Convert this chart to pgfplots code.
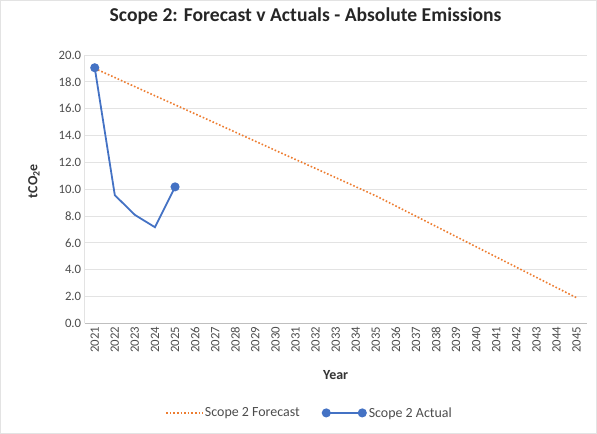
\documentclass[border=0pt]{standalone}
\usepackage{pgfplots}
\pgfplotsset{compat=1.18}
\usepackage{fontspec}
\setmainfont{Carlito}
\definecolor{fcorange}{HTML}{ED7D31}
\definecolor{actblue}{HTML}{4472C4}
\definecolor{gridgray}{HTML}{E3E3E3}
\definecolor{axgray}{HTML}{BFBFBF}
\definecolor{txtgray}{HTML}{595959}
\pgfplotsset{
  fclegend/.style={legend image code/.code={\draw[#1] (0bp,0bp) -- (36bp,0bp);}},
  actlegend/.style={legend image code/.code={\draw[actblue, line width=1.8bp] (0bp,0bp) -- (36bp,0bp); \fill[actblue] (0bp,0bp) circle (3.6bp) (36bp,0bp) circle (3.6bp);}},
}
\begin{document}
\begin{tikzpicture}
\path[use as bounding box] (-84.7bp,-110.7bp) rectangle (512.3bp,323.3bp);
\draw[gridgray, line width=0.6bp] (-84.2bp,-110.2bp) rectangle (511.8bp,322.8bp);
\begin{axis}[
  scale only axis,
  width=502bp, height=268.3bp,
  xmin=2020.5, xmax=2045.5,
  ymin=0, ymax=20,
  xtick={2021,2022,...,2045},
  ytick={0,2,...,20},
  major tick length=0pt,
  ymajorgrids,
  grid style={gridgray, line width=0.8bp},
  axis x line*=bottom,
  axis y line*=left,
  x axis line style={axgray, line width=1.2bp, -},
  y axis line style={gridgray, line width=0.8bp, -},
  /pgf/number format/assume math mode=true,
  xticklabel style={rotate=90, anchor=east, font=\fontsize{12.8}{14}\selectfont, text=txtgray!85!black, /pgf/number format/1000 sep={}},
  yticklabel style={font=\fontsize{12.8}{14}\selectfont, text=txtgray!85!black, /pgf/number format/fixed, /pgf/number format/fixed zerofill, /pgf/number format/precision=1},
  xlabel={Year},
  ylabel={tCO\textsubscript{2}e},
  xlabel style={at={(axis description cs:0.5,-0.193)}, anchor=center, font=\bfseries\fontsize{14}{16}\selectfont, text=black!80},
  ylabel style={at={(axis description cs:-0.101,0.53)}, anchor=center, font=\bfseries\fontsize{14}{16}\selectfont, text=black!80},
  title={Scope 2: Forecast v Actuals - Absolute Emissions},
  title style={at={(axis description cs:0.44,1.123)}, anchor=center, font=\bfseries\fontsize{19.7}{22}\selectfont, text=black!85},
  legend columns=2,
  legend style={at={(axis description cs:0.448,-0.334)}, anchor=center, draw=none, fill=none, font=\fontsize{14}{16}\selectfont, text=txtgray!85!black, /tikz/every even column/.append style={column sep=20bp}},
  clip=false,
]
\addplot[fcorange, line width=1.6bp, dotted, mark=none, fclegend]
coordinates {
(2021,19.00) (2022,18.32) (2023,17.64) (2024,16.96) (2025,16.29)
(2026,15.61) (2027,14.93) (2028,14.25) (2029,13.57) (2030,12.89)
(2031,12.21) (2032,11.54) (2033,10.86) (2034,10.18) (2035,9.50)
(2036,8.74) (2037,7.98) (2038,7.22) (2039,6.46) (2040,5.70)
(2041,4.94) (2042,4.18) (2043,3.42) (2044,2.66) (2045,1.90)
};
\addlegendentry{Scope 2 Forecast}
\addplot[actblue, line width=1.8bp, mark=*, mark indices={1,5}, mark size=3.6bp, mark options={solid, fill=actblue, draw=actblue}, actlegend]
coordinates {
(2021,19.05) (2022,9.55) (2023,8.08) (2024,7.16) (2025,10.17)
};
\addlegendentry{Scope 2 Actual}
\end{axis}
\end{tikzpicture}
\end{document}
